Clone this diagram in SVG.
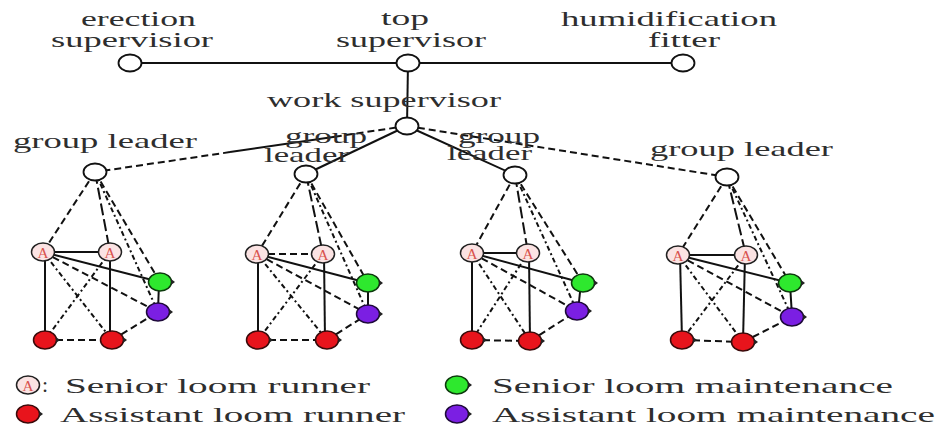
<svg xmlns="http://www.w3.org/2000/svg" xmlns:xlink="http://www.w3.org/1999/xlink" width="942" height="428" viewBox="0 0 942 428">
  <style>
    .lbl { font-family: "Liberation Serif", "Times New Roman", serif; font-size: 22px; fill: #2e2e2e; }
    .ac { font-family: "Liberation Serif", "Times New Roman", serif; font-size: 15px; fill: #d9534f; }
    .plain { fill: #ffffff; stroke: #111111; stroke-width: 1.8; }
    .line { stroke: #111111; stroke-width: 2; fill: none; }
    .dash { stroke-dasharray: 7 4; }
    .ldash { stroke-dasharray: 12 4; }
    .dot { stroke-dasharray: 5 3 2 3; }
  </style>
  <defs>
    <g id="senior">
      <ellipse rx="11.5" ry="9" fill="#fbe3e3" stroke="#222" stroke-width="1.5"/>
      <text class="ac" x="0" y="5.5" text-anchor="middle" textLength="11" lengthAdjust="spacingAndGlyphs">A</text>
    </g>
    <g id="assistRunner">
      <ellipse rx="11.5" ry="9" fill="#e8141c" stroke="#3a0a0a" stroke-width="1.5"/>
      <polygon points="11,-3 15,0 11,3" fill="#222"/>
    </g>
    <g id="seniorMaint">
      <ellipse rx="11.5" ry="9" fill="#2ee82e" stroke="#0d3a0d" stroke-width="1.5"/>
      <polygon points="11,-3 15,0 11,3" fill="#222"/>
    </g>
    <g id="assistMaint">
      <ellipse rx="11.5" ry="9" fill="#7b1fe3" stroke="#1e0a3a" stroke-width="1.5"/>
      <polygon points="11,-3 15,0 11,3" fill="#222"/>
    </g>
  </defs>

  <rect width="942" height="428" fill="#ffffff"/>

  <!-- connectors -->
  <g id="connectors">
    <!-- top level -->
    <line class="line" x1="130" y1="63" x2="408" y2="63"/>
    <line class="line" x1="408" y1="63" x2="683" y2="63"/>
    <line class="line" x1="408" y1="63" x2="407" y2="126"/>
    <!-- work supervisor to group leaders -->
    <line class="line dash" x1="407" y1="126" x2="340" y2="135.9"/>
    <line class="line" x1="340" y1="135.9" x2="230" y2="152.1"/>
    <line class="line dash" x1="230" y1="152.1" x2="95" y2="172"/>
    <line class="line" x1="407" y1="126" x2="306" y2="174"/>
    <line class="line" x1="407" y1="126" x2="515" y2="175"/>
    <line class="line dash" x1="407" y1="126" x2="727" y2="177"/>

    <!-- group 1 -->
    <line class="line dash" x1="95" y1="172" x2="43" y2="252"/>
    <line class="line ldash" x1="95" y1="172" x2="110" y2="252"/>
    <line class="line dash" x1="95" y1="172" x2="160" y2="282"/>
    <line class="line dot" x1="95" y1="172" x2="158" y2="312"/>
    <line class="line" x1="43" y1="252" x2="110" y2="252"/>
    <line class="line" x1="43" y1="252" x2="160" y2="282"/>
    <line class="line" x1="45" y1="252" x2="45" y2="340"/>
    <line class="line" x1="110" y1="252" x2="110" y2="340"/>
    <line class="line" x1="159" y1="282" x2="158" y2="312"/>
    <line class="line dot" x1="43" y1="252" x2="112" y2="340"/>
    <line class="line dot" x1="110" y1="252" x2="45" y2="340"/>
    <line class="line dash" x1="43" y1="252" x2="158" y2="312"/>
    <line class="line dash" x1="45" y1="340" x2="112" y2="340"/>
    <line class="line dash" x1="112" y1="340" x2="158" y2="312"/>

    <!-- group 2 -->
    <line class="line dash" x1="306" y1="174" x2="257" y2="254"/>
    <line class="line ldash" x1="306" y1="174" x2="323" y2="254"/>
    <line class="line dash" x1="306" y1="174" x2="368" y2="283"/>
    <line class="line dot" x1="306" y1="174" x2="368" y2="314"/>
    <line class="line dash" x1="257" y1="254" x2="323" y2="254"/>
    <line class="line" x1="257" y1="254" x2="368" y2="283"/>
    <line class="line" x1="258" y1="254" x2="258" y2="340"/>
    <line class="line" x1="324" y1="254" x2="325" y2="340"/>
    <line class="line" x1="368" y1="283" x2="368" y2="314"/>
    <line class="line dot" x1="257" y1="254" x2="327" y2="340"/>
    <line class="line dot" x1="323" y1="254" x2="258" y2="340"/>
    <line class="line dash" x1="257" y1="254" x2="368" y2="314"/>
    <line class="line dash" x1="258" y1="340" x2="327" y2="340"/>
    <line class="line dash" x1="327" y1="340" x2="368" y2="314"/>

    <!-- group 3 -->
    <line class="line dash" x1="515" y1="175" x2="472" y2="253"/>
    <line class="line ldash" x1="515" y1="175" x2="528" y2="253"/>
    <line class="line dash" x1="515" y1="175" x2="583" y2="283"/>
    <line class="line dot" x1="515" y1="175" x2="577" y2="311"/>
    <line class="line" x1="472" y1="253" x2="528" y2="253"/>
    <line class="line" x1="472" y1="253" x2="583" y2="283"/>
    <line class="line" x1="472" y1="253" x2="472" y2="340"/>
    <line class="line" x1="529" y1="253" x2="530" y2="341"/>
    <line class="line" x1="581" y1="283" x2="578" y2="311"/>
    <line class="line dot" x1="472" y1="253" x2="530" y2="341"/>
    <line class="line dot" x1="528" y1="253" x2="472" y2="340"/>
    <line class="line dash" x1="472" y1="253" x2="577" y2="311"/>
    <line class="line dash" x1="472" y1="340" x2="530" y2="341"/>
    <line class="line dash" x1="530" y1="341" x2="577" y2="311"/>

    <!-- group 4 -->
    <line class="line dash" x1="727" y1="177" x2="678" y2="255"/>
    <line class="line ldash" x1="727" y1="177" x2="746" y2="255"/>
    <line class="line dash" x1="727" y1="177" x2="790" y2="283"/>
    <line class="line dot" x1="727" y1="177" x2="792" y2="317"/>
    <line class="line" x1="678" y1="255" x2="746" y2="255"/>
    <line class="line" x1="678" y1="255" x2="790" y2="283"/>
    <line class="line" x1="680" y1="255" x2="682" y2="340"/>
    <line class="line" x1="745" y1="255" x2="743" y2="342"/>
    <line class="line" x1="790" y1="283" x2="792" y2="317"/>
    <line class="line dot" x1="678" y1="255" x2="743" y2="342"/>
    <line class="line dot" x1="746" y1="255" x2="682" y2="340"/>
    <line class="line dash" x1="678" y1="255" x2="792" y2="317"/>
    <line class="line dash" x1="682" y1="340" x2="743" y2="342"/>
    <line class="line dash" x1="743" y1="342" x2="792" y2="317"/>
  </g>

  <!-- supervisors -->
  <g id="erection-supervisor">
    <text class="lbl" x="81" y="26" textLength="115" lengthAdjust="spacingAndGlyphs">erection</text>
    <text class="lbl" x="51" y="47" textLength="162" lengthAdjust="spacingAndGlyphs">supervisior</text>
    <ellipse class="plain" cx="130" cy="63" rx="11.5" ry="8.5"/>
  </g>
  <g id="top-supervisor">
    <text class="lbl" x="381" y="25" textLength="48" lengthAdjust="spacingAndGlyphs">top</text>
    <text class="lbl" x="336" y="47" textLength="150" lengthAdjust="spacingAndGlyphs">supervisor</text>
    <ellipse class="plain" cx="408" cy="63" rx="11.5" ry="8.5"/>
  </g>
  <g id="humidification-fitter">
    <text class="lbl" x="561" y="26" textLength="216" lengthAdjust="spacingAndGlyphs">humidification</text>
    <text class="lbl" x="648" y="47" textLength="72" lengthAdjust="spacingAndGlyphs">fitter</text>
    <ellipse class="plain" cx="683" cy="63" rx="11.5" ry="8.5"/>
  </g>
  <g id="work-supervisor">
    <text class="lbl" x="267" y="107" textLength="234" lengthAdjust="spacingAndGlyphs">work supervisor</text>
    <ellipse class="plain" cx="407" cy="126" rx="11.5" ry="8.5"/>
  </g>

  <!-- group leaders -->
  <g id="group-leader-1">
    <text class="lbl" x="13" y="148" textLength="184" lengthAdjust="spacingAndGlyphs">group leader</text>
    <ellipse class="plain" cx="95" cy="172" rx="11.5" ry="8.5"/>
  </g>
  <g id="group-leader-2">
    <text class="lbl" x="285" y="143" textLength="82" lengthAdjust="spacingAndGlyphs">group</text>
    <text class="lbl" x="264" y="162" textLength="85" lengthAdjust="spacingAndGlyphs">leader</text>
    <ellipse class="plain" cx="306" cy="174" rx="11.5" ry="8.5"/>
  </g>
  <g id="group-leader-3">
    <text class="lbl" x="458" y="143" textLength="82" lengthAdjust="spacingAndGlyphs">group</text>
    <text class="lbl" x="447" y="160" textLength="85" lengthAdjust="spacingAndGlyphs">leader</text>
    <ellipse class="plain" cx="515" cy="175" rx="11.5" ry="8.5"/>
  </g>
  <g id="group-leader-4">
    <text class="lbl" x="650" y="156" textLength="183" lengthAdjust="spacingAndGlyphs">group leader</text>
    <ellipse class="plain" cx="727" cy="177" rx="11.5" ry="8.5"/>
  </g>

  <!-- group 1 workers -->
  <g id="g1-senior-runner-1"><use xlink:href="#senior" x="43" y="252"/></g>
  <g id="g1-senior-runner-2"><use xlink:href="#senior" x="110" y="252"/></g>
  <g id="g1-senior-maint"><use xlink:href="#seniorMaint" x="160" y="282"/></g>
  <g id="g1-assist-maint"><use xlink:href="#assistMaint" x="158" y="312"/></g>
  <g id="g1-assist-runner-1"><use xlink:href="#assistRunner" x="45" y="340"/></g>
  <g id="g1-assist-runner-2"><use xlink:href="#assistRunner" x="112" y="340"/></g>

  <!-- group 2 workers -->
  <g id="g2-senior-runner-1"><use xlink:href="#senior" x="257" y="254"/></g>
  <g id="g2-senior-runner-2"><use xlink:href="#senior" x="323" y="254"/></g>
  <g id="g2-senior-maint"><use xlink:href="#seniorMaint" x="368" y="283"/></g>
  <g id="g2-assist-maint"><use xlink:href="#assistMaint" x="368" y="314"/></g>
  <g id="g2-assist-runner-1"><use xlink:href="#assistRunner" x="258" y="340"/></g>
  <g id="g2-assist-runner-2"><use xlink:href="#assistRunner" x="327" y="340"/></g>

  <!-- group 3 workers -->
  <g id="g3-senior-runner-1"><use xlink:href="#senior" x="472" y="253"/></g>
  <g id="g3-senior-runner-2"><use xlink:href="#senior" x="528" y="253"/></g>
  <g id="g3-senior-maint"><use xlink:href="#seniorMaint" x="583" y="283"/></g>
  <g id="g3-assist-maint"><use xlink:href="#assistMaint" x="577" y="311"/></g>
  <g id="g3-assist-runner-1"><use xlink:href="#assistRunner" x="472" y="340"/></g>
  <g id="g3-assist-runner-2"><use xlink:href="#assistRunner" x="530" y="341"/></g>

  <!-- group 4 workers -->
  <g id="g4-senior-runner-1"><use xlink:href="#senior" x="678" y="255"/></g>
  <g id="g4-senior-runner-2"><use xlink:href="#senior" x="746" y="255"/></g>
  <g id="g4-senior-maint"><use xlink:href="#seniorMaint" x="790" y="283"/></g>
  <g id="g4-assist-maint"><use xlink:href="#assistMaint" x="792" y="317"/></g>
  <g id="g4-assist-runner-1"><use xlink:href="#assistRunner" x="682" y="340"/></g>
  <g id="g4-assist-runner-2"><use xlink:href="#assistRunner" x="743" y="342"/></g>

  <!-- legend -->
  <g id="legend">
    <use xlink:href="#senior" x="28" y="385"/>
    <text class="lbl" x="42" y="392" font-size="14">:</text>
    <text class="lbl" x="65" y="393" textLength="305" lengthAdjust="spacingAndGlyphs">Senior loom runner</text>
    <use xlink:href="#assistRunner" x="28" y="414"/>
    <text class="lbl" x="60" y="422" textLength="345" lengthAdjust="spacingAndGlyphs">Assistant loom runner</text>
    <use xlink:href="#seniorMaint" x="457" y="385"/>
    <text class="lbl" x="492" y="393" textLength="401" lengthAdjust="spacingAndGlyphs">Senior loom maintenance</text>
    <use xlink:href="#assistMaint" x="457" y="414"/>
    <text class="lbl" x="492" y="422" textLength="443" lengthAdjust="spacingAndGlyphs">Assistant loom maintenance</text>
  </g>
</svg>
